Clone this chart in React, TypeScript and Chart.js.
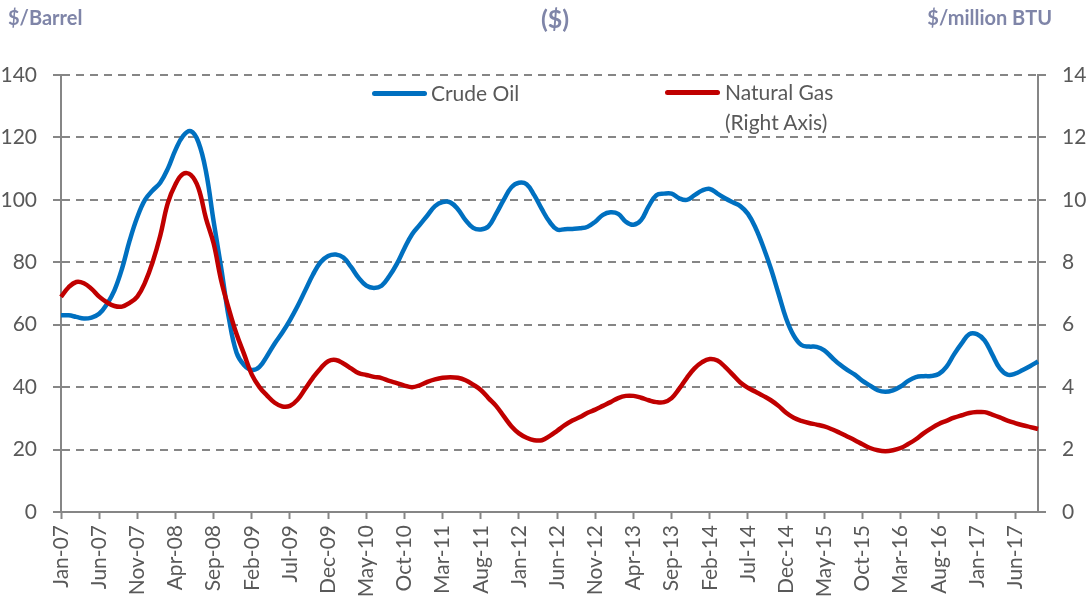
import React, { useEffect, useRef } from "react";
import { Chart, registerables } from "chart.js";

Chart.register(...registerables);

const MONTH_NAMES = ["Jan", "Feb", "Mar", "Apr", "May", "Jun", "Jul", "Aug", "Sep", "Oct", "Nov", "Dec"];
const START_YEAR = 2007;
const N_MONTHS = 129; // Jan-07 .. Sep-17
const categories: string[] = [];
for (let i = 0; i < N_MONTHS; i++) {
  const y = START_YEAR + Math.floor(i / 12);
  categories.push(MONTH_NAMES[i % 12] + "-" + String(y % 100).padStart(2, "0"));
}

// Crude oil, $/barrel (left axis)
const crudeOil = [
  63, 63, 62.5, 62, 62.3, 63.5, 66.5, 71, 78, 87,
  94.5, 100, 103, 105.5, 110, 116, 120.5, 122, 118.5, 109,
  93, 78, 62, 51, 47, 45.5, 46.5, 50, 54, 57.5,
  61.5, 66, 71, 76, 80, 82, 82.5, 81.5, 78.5, 75,
  72.5, 71.8, 72.5, 75.5, 79.5, 84.5, 89, 92, 95, 98,
  99.3, 99.2, 97, 93.5, 91, 90.5, 91.5, 95.5, 100, 104,
  105.5, 105, 101.5, 97, 93, 90.5, 90.6, 90.7, 90.9, 91.4,
  93, 95.2, 96, 95.5, 93, 92, 93.5, 98, 101.5, 102,
  102, 100.5, 100, 101.5, 103, 103.5, 102, 100.5, 99.2, 98,
  95.5, 91, 85, 78, 70, 62, 56.5, 53.5, 53, 52.9,
  51.8, 49.5, 47.3, 45.5, 44, 42, 40.5, 39, 38.5, 39,
  40.2, 42, 43.2, 43.5, 43.6, 44.2, 46.5, 50.5, 54, 57,
  57, 55, 50.5, 46, 44, 44.3, 45.5, 46.8, 48.2,
];

// Natural gas, $/million BTU (right axis)
const naturalGas = [
  6.89, 7.2, 7.37, 7.33, 7.15, 6.9, 6.72, 6.6, 6.58, 6.7,
  6.9, 7.35, 8.0, 8.85, 9.9, 10.5, 10.83, 10.8, 10.38, 9.4,
  8.6, 7.4, 6.5, 5.7, 5.05, 4.4, 4.0, 3.73, 3.5, 3.38,
  3.4, 3.6, 3.95, 4.3, 4.6, 4.83, 4.87, 4.76, 4.6, 4.45,
  4.39, 4.33, 4.29, 4.2, 4.13, 4.05, 4.0, 4.06, 4.17, 4.25,
  4.3, 4.32, 4.3, 4.22, 4.08, 3.91, 3.65, 3.4, 3.07, 2.75,
  2.52, 2.38, 2.3, 2.3, 2.43, 2.6, 2.78, 2.93, 3.04, 3.18,
  3.28, 3.4, 3.52, 3.65, 3.72, 3.72, 3.66, 3.58, 3.52, 3.52,
  3.65, 3.95, 4.3, 4.6, 4.8, 4.9, 4.85, 4.65, 4.4, 4.15,
  3.98, 3.85, 3.72, 3.58, 3.4, 3.18, 3.02, 2.92, 2.85, 2.8,
  2.74, 2.65, 2.54, 2.42, 2.3, 2.17, 2.05, 1.98, 1.95, 1.98,
  2.05, 2.18, 2.33, 2.52, 2.68, 2.82, 2.92, 3.02, 3.1, 3.17,
  3.2, 3.2, 3.12, 3.03, 2.93, 2.85, 2.78, 2.72, 2.66,
];

const LABEL_EVERY = 5;
const FONT = "Lato, 'Noto Sans', sans-serif";
const TEXT = "#595959";
const AXIS = "#868686";
const BLUE = "#0070C0";
const RED = "#C00000";
const HEAD = "#7F85A8";

export default function App() {
  const ref = useRef<HTMLCanvasElement | null>(null);

  useEffect(() => {
    if (!ref.current) return;
    const chart = new Chart(ref.current, {
      type: "line",
      data: {
        labels: categories,
        datasets: [
          {
            label: "Crude Oil",
            data: crudeOil,
            yAxisID: "y",
            borderColor: BLUE,
            backgroundColor: BLUE,
            borderWidth: 4.5,
            pointRadius: 0,
            tension: 0.4,
            fill: false,
            order: 2,
          },
          {
            label: "Natural Gas (Right Axis)",
            data: naturalGas,
            yAxisID: "y1",
            borderColor: RED,
            backgroundColor: RED,
            borderWidth: 4.5,
            pointRadius: 0,
            tension: 0.4,
            fill: false,
            order: 1,
          },
        ],
      },
      options: {
        responsive: false,
        animation: false,
        layout: { padding: { top: 75, left: 0, right: 0, bottom: 0 } },
        plugins: { legend: { display: false }, tooltip: { enabled: false }, title: { display: false } },
        scales: {
          x: {
            type: "category",
            offset: false,
            grid: {
              drawOnChartArea: false,
              drawTicks: true,
              tickLength: 7,
              tickWidth: 2,
              tickColor: (c: any) => (c.index % LABEL_EVERY === 0 ? AXIS : "rgba(0,0,0,0)"),
            },
            border: { color: AXIS, width: 2 },
            ticks: {
              autoSkip: false,
              maxRotation: 90,
              minRotation: 90,
              padding: 6,
              color: TEXT,
              font: { family: FONT, size: 21 },
              callback: (_v: any, i: number) => (i % LABEL_EVERY === 0 ? categories[i] : ""),
            },
            afterFit: (s: any) => {
              s.height = 88;
            },
          },
          y: {
            position: "left",
            min: 0,
            max: 140,
            ticks: {
              stepSize: 20,
              padding: 16,
              color: TEXT,
              font: { family: FONT, size: 21 },
            },
            grid: {
              color: AXIS,
              lineWidth: 2,
              drawTicks: true,
              tickLength: 8,
              tickBorderDash: [],
            },
            border: { color: AXIS, width: 2, dash: [8, 6] },
            afterFit: (s: any) => {
              s.width = 61;
            },
          },
          y1: {
            position: "right",
            min: 0,
            max: 14,
            ticks: {
              stepSize: 2,
              padding: 16,
              color: TEXT,
              font: { family: FONT, size: 21 },
            },
            grid: {
              drawOnChartArea: false,
              color: AXIS,
              lineWidth: 2,
              drawTicks: true,
              tickLength: 8,
            },
            border: { color: AXIS, width: 2 },
            afterFit: (s: any) => {
              s.width = 51;
            },
          },
        },
      },
    });
    return () => chart.destroy();
  }, []);

  const headStyle: React.CSSProperties = {
    position: "absolute",
    fontFamily: FONT,
    fontWeight: 700,
    color: HEAD,
    whiteSpace: "nowrap",
  };
  const legText: React.CSSProperties = {
    position: "absolute",
    fontFamily: FONT,
    fontSize: 21,
    lineHeight: "30px",
    color: TEXT,
    whiteSpace: "nowrap",
  };
  const legLine = (left: number, top: number, color: string): React.CSSProperties => ({
    position: "absolute",
    left,
    top: top - 2.5,
    width: 55,
    height: 5,
    borderRadius: 3,
    background: color,
  });

  return (
    <div style={{ position: "absolute", left: 0, top: 0, width: 1089, height: 600, background: "#fff", overflow: "hidden" }}>
      <canvas ref={ref} width={1089} height={600} style={{ position: "absolute", left: 0, top: 0 }} />
      <div style={{ ...headStyle, left: 8, top: 5, fontSize: 20, lineHeight: "24px" }}>$/Barrel</div>
      <div style={{ ...headStyle, left: 455, width: 200, top: 3, fontSize: 25, lineHeight: "30px", textAlign: "center" }}>($)</div>
      <div style={{ ...headStyle, right: 37, top: 5, fontSize: 20, lineHeight: "24px", textAlign: "right" }}>$/million BTU</div>
      <div style={legLine(372, 93, BLUE)} />
      <div style={{ ...legText, left: 431, top: 78 }}>Crude Oil</div>
      <div style={legLine(665, 92, RED)} />
      <div style={{ ...legText, left: 725, top: 77 }}>
        Natural Gas
        <br />
        (Right Axis)
      </div>
    </div>
  );
}
